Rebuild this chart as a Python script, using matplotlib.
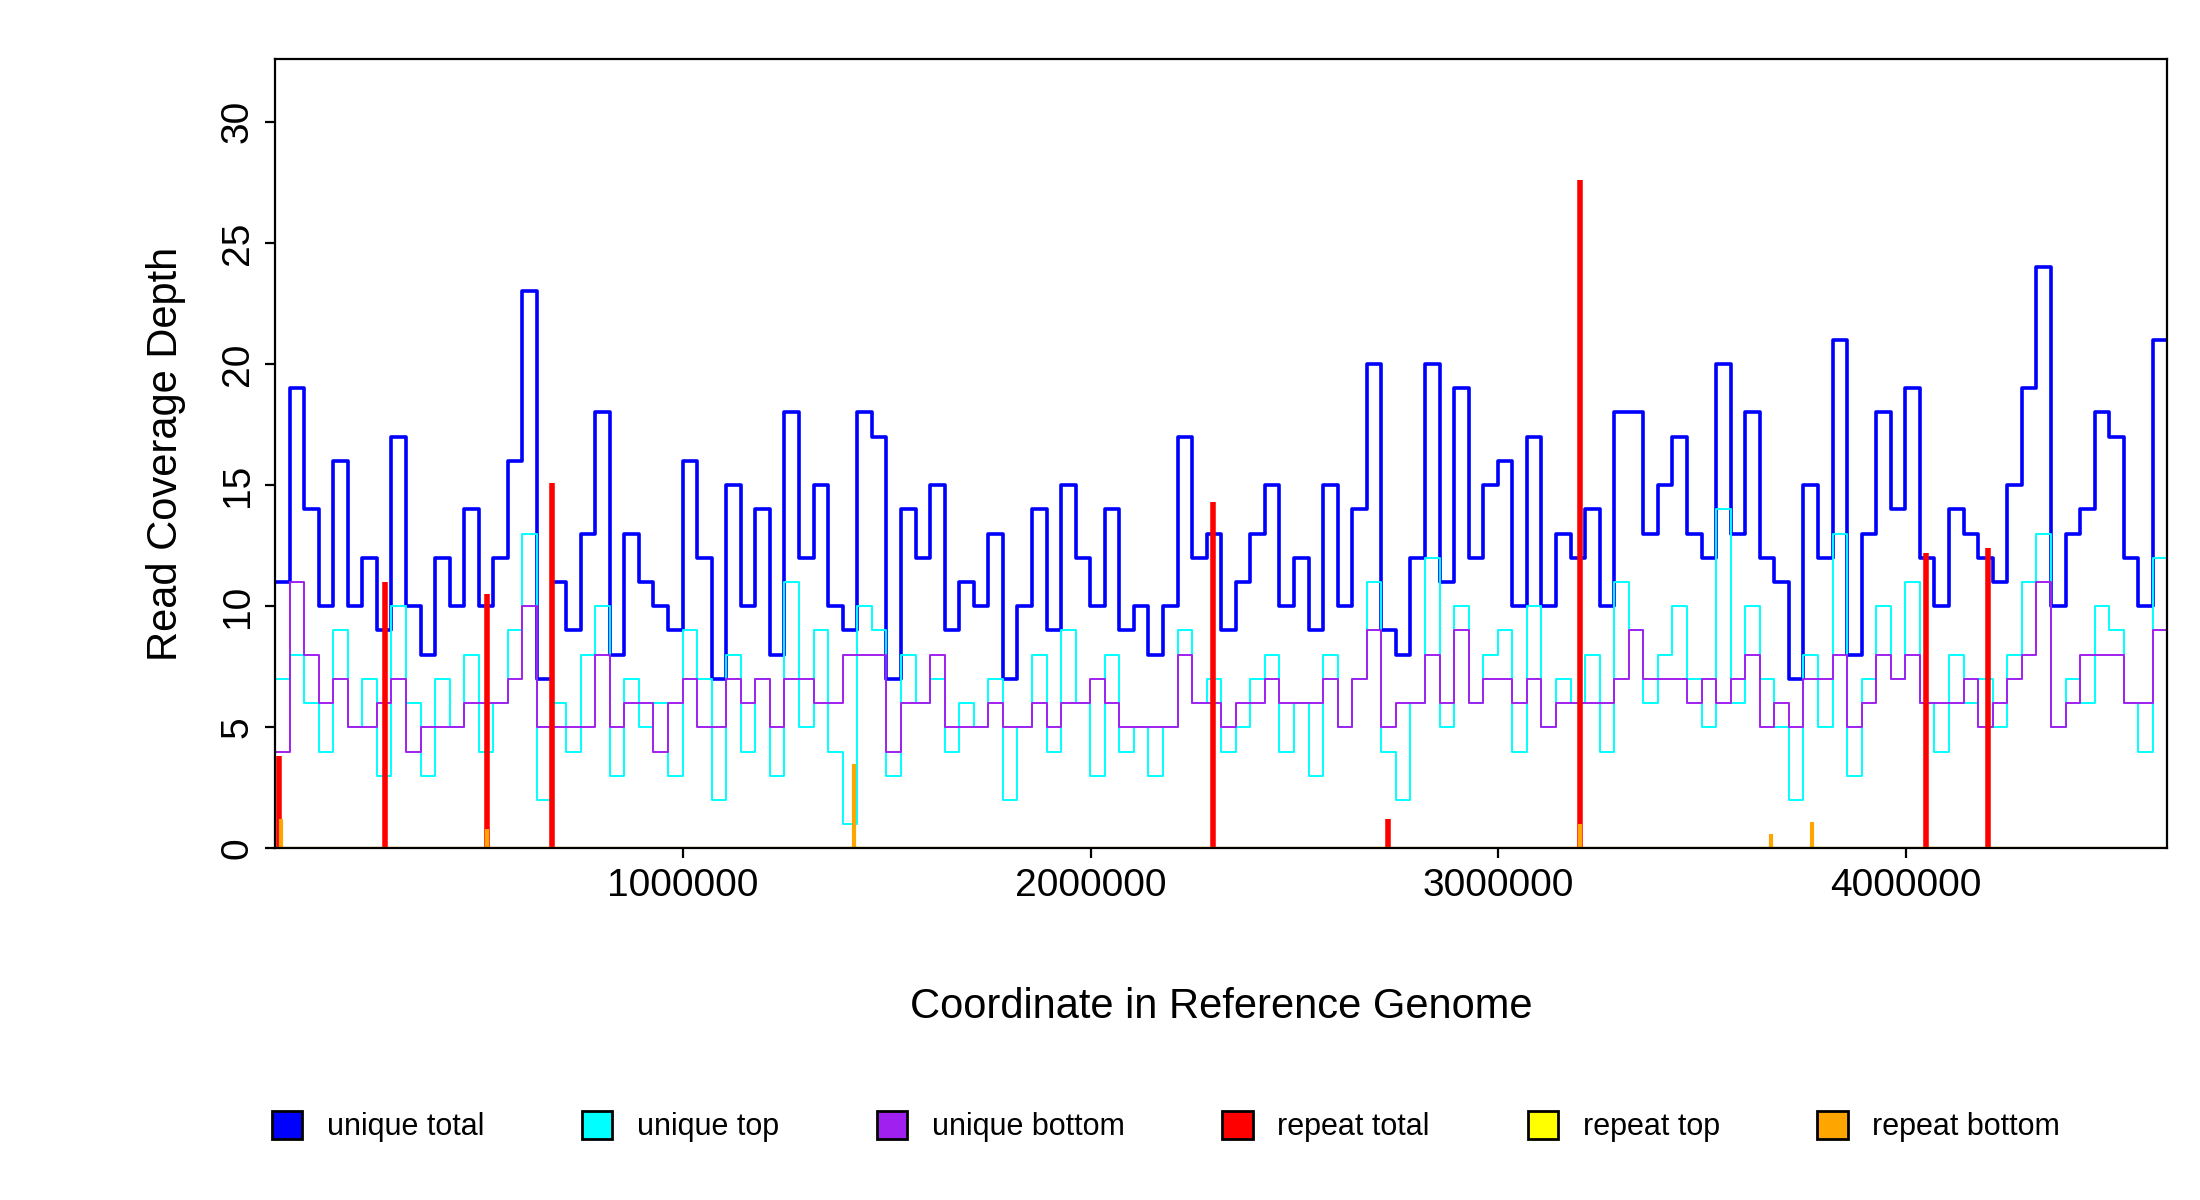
import matplotlib.pyplot as plt
import numpy as np
from matplotlib.patches import Patch

plt.rcParams['font.family'] = ['Liberation Sans', 'DejaVu Sans']

bin_width = 35700

unique_total = [11, 19, 14, 10, 16, 10, 12, 9, 17, 10,
                8, 12, 10, 14, 10, 12, 16, 23, 7, 11,
                9, 13, 18, 8, 13, 11, 10, 9, 16, 12,
                7, 15, 10, 14, 8, 18, 12, 15, 10, 9,
                18, 17, 7, 14, 12, 15, 9, 11, 10, 13,
                7, 10, 14, 9, 15, 12, 10, 14, 9, 10,
                8, 10, 17, 12, 13, 9, 11, 13, 15, 10,
                12, 9, 15, 10, 14, 20, 9, 8, 12, 20,
                11, 19, 12, 15, 16, 10, 17, 10, 13, 12,
                14, 10, 18, 18, 13, 15, 17, 13, 12, 20,
                13, 18, 12, 11, 7, 15, 12, 21, 8, 13,
                18, 14, 19, 12, 10, 14, 13, 12, 11, 15,
                19, 24, 10, 13, 14, 18, 17, 12, 10, 21]
unique_top = [7, 8, 6, 4, 9, 5, 7, 3, 10, 6,
              3, 7, 5, 8, 4, 6, 9, 13, 2, 6,
              4, 8, 10, 3, 7, 5, 6, 3, 9, 7,
              2, 8, 4, 7, 3, 11, 5, 9, 4, 1,
              10, 9, 3, 8, 6, 7, 4, 6, 5, 7,
              2, 5, 8, 4, 9, 6, 3, 8, 4, 5,
              3, 5, 9, 6, 7, 4, 5, 7, 8, 4,
              6, 3, 8, 5, 7, 11, 4, 2, 6, 12,
              5, 10, 6, 8, 9, 4, 10, 5, 7, 6,
              8, 4, 11, 9, 6, 8, 10, 7, 5, 14,
              6, 10, 7, 5, 2, 8, 5, 13, 3, 7,
              10, 7, 11, 6, 4, 8, 6, 7, 5, 8,
              11, 13, 5, 7, 6, 10, 9, 6, 4, 12]
unique_bottom = [4, 11, 8, 6, 7, 5, 5, 6, 7, 4,
                 5, 5, 5, 6, 6, 6, 7, 10, 5, 5,
                 5, 5, 8, 5, 6, 6, 4, 6, 7, 5,
                 5, 7, 6, 7, 5, 7, 7, 6, 6, 8,
                 8, 8, 4, 6, 6, 8, 5, 5, 5, 6,
                 5, 5, 6, 5, 6, 6, 7, 6, 5, 5,
                 5, 5, 8, 6, 6, 5, 6, 6, 7, 6,
                 6, 6, 7, 5, 7, 9, 5, 6, 6, 8,
                 6, 9, 6, 7, 7, 6, 7, 5, 6, 6,
                 6, 6, 7, 9, 7, 7, 7, 6, 7, 6,
                 7, 8, 5, 6, 5, 7, 7, 8, 5, 6,
                 8, 7, 8, 6, 6, 6, 7, 5, 6, 7,
                 8, 11, 5, 6, 8, 8, 8, 6, 6, 9]

repeat_pos = [10000, 270000, 520000, 680000, 2300000, 2730000, 3200000, 4050000, 4200000]
repeat_total = [3.8, 11, 10.5, 15.1, 14.3, 1.2, 27.6, 12.2, 12.4]
repeat_bottom_pos = [15000, 520000, 1420000, 3200000, 3670000, 3770000]
repeat_bottom = [1.2, 0.8, 3.5, 1.0, 0.6, 1.1]

genome_end = 4640000


def plot_coverage():
    """
    Creating a step plot of read coverage along the genome
    """
    x = np.arange(len(unique_total) + 1) * bin_width
    plt.step(x, unique_total + [unique_total[-1]], where='post', color='blue', linewidth=1.3)
    plt.step(x, unique_top + [unique_top[-1]], where='post', color='cyan', linewidth=0.7)
    plt.step(x, unique_bottom + [unique_bottom[-1]], where='post', color='#A020F0', linewidth=0.7)
    plt.vlines(repeat_pos, 0, repeat_total, color='red', linewidth=2)
    plt.vlines(repeat_bottom_pos, 0, repeat_bottom, color='orange', linewidth=1.5)
    plt.axhline(0, color='orange', linewidth=1.2)        # repeat baseline

    plt.xlim(0, genome_end)
    plt.ylim(0, 32.6)
    plt.xticks([1000000, 2000000, 3000000, 4000000], ['1000000', '2000000', '3000000', '4000000'], fontsize=14)
    plt.yticks([0, 5, 10, 15, 20, 25, 30], fontsize=14, rotation=90, va='center')
    plt.xlabel("Coordinate in Reference Genome", fontsize=15, labelpad=30)
    plt.ylabel("Read Coverage Depth", fontsize=15, labelpad=12)

    handles = [Patch(facecolor=c, edgecolor='black', label=l) for c, l in
               [('blue', 'unique total'), ('cyan', 'unique top'), ('#A020F0', 'unique bottom'),
                ('red', 'repeat total'), ('yellow', 'repeat top'), ('orange', 'repeat bottom')]]
    plt.figlegend(handles=handles, loc='lower center', ncol=6, frameon=False, fontsize=11,
                  handlelength=1, handleheight=1, columnspacing=3.2, bbox_to_anchor=(0.53, 0.025))


plt.figure(figsize=(11, 6), dpi=200)
plt.axes([0.125, 0.293, 0.86, 0.658])
plot_coverage()
plt.savefig('out.png', dpi=200)
